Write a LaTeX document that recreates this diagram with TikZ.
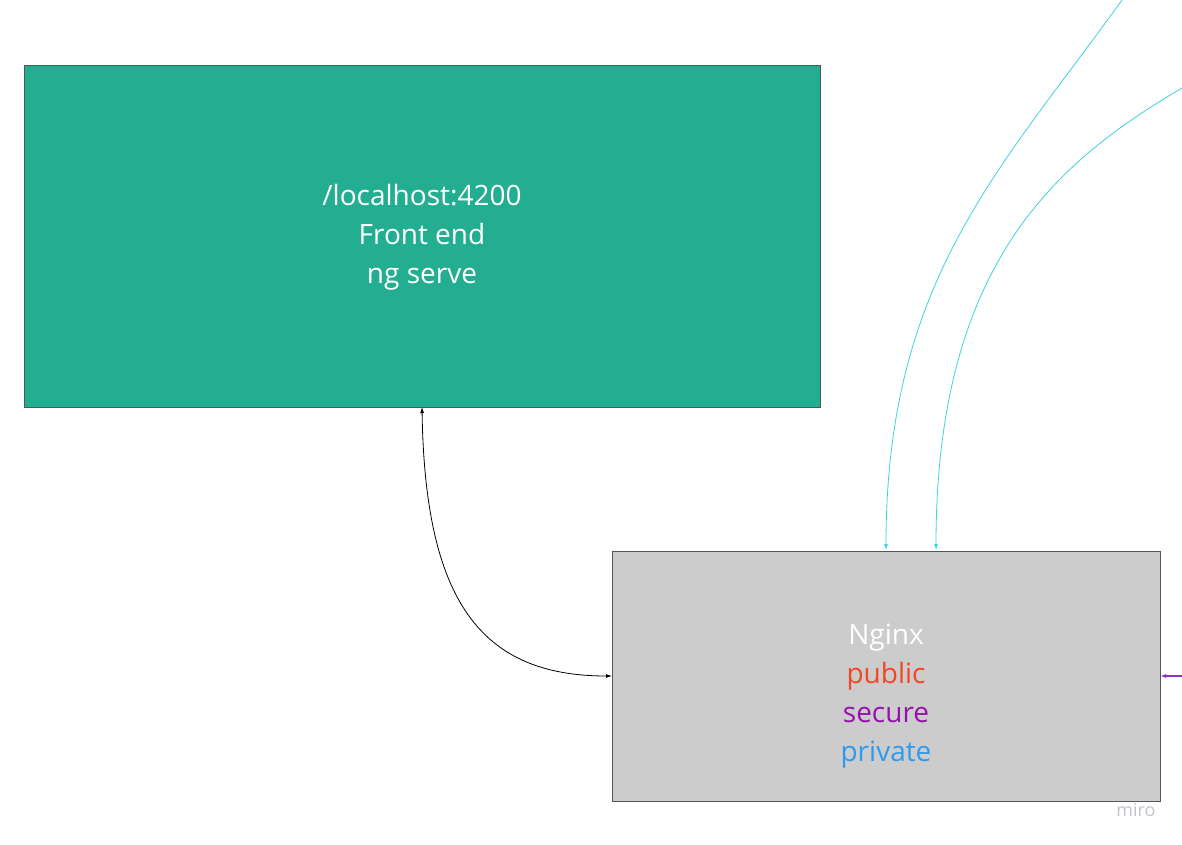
\documentclass[tikz,border=0pt]{standalone}
\usepackage{fontspec}
\setmainfont{Open Sans}
\usetikzlibrary{arrows.meta}
\definecolor{boxgreen}{HTML}{23AE92}
\definecolor{boxgray}{HTML}{CCCCCC}
\definecolor{edgegray}{HTML}{555555}
\definecolor{cyanline}{HTML}{3CD3DF}
\definecolor{purpleline}{HTML}{8A32CC}
\definecolor{pubred}{HTML}{F24726}
\definecolor{secpurple}{HTML}{9510AC}
\definecolor{privblue}{HTML}{2D9BF0}
\definecolor{mirogray}{HTML}{BFC3CC}
\tikzset{
  boxlabel/.style={text=white, align=center, font=\fontsize{28}{39}\selectfont},
  conn/.style={line width=0.8pt, -{Latex[length=6pt,width=4pt]}},
  biconn/.style={line width=0.8pt, {Latex[length=6pt,width=4pt]}-{Latex[length=6pt,width=4pt]}},
}
\begin{document}
\begin{tikzpicture}[x=1pt,y=-1pt]
\useasboundingbox (0,0) rectangle (1182,845);
% boxes
\draw[fill=boxgreen, draw=edgegray, line width=0.8pt] (24,65) rectangle (820,407);
\node[boxlabel] (felabel) at (422,237) {/localhost:4200\\Front end\\ng serve};
\draw[fill=boxgray, draw=edgegray, line width=1pt] (612,551) rectangle (1160,801);
\node[boxlabel] (nglabel) at (886,696) {Nginx\\\textcolor{pubred}{public}\\\textcolor{secpurple}{secure}\\\textcolor{privblue}{private}};
% anchor coordinates on box borders
\coordinate (feBottom) at (422,407);
\coordinate (ngLeft) at (612,676);
\coordinate (ngTopA) at (886,550);
\coordinate (ngTopB) at (936,550);
\coordinate (ngRight) at (1160,676);
\coordinate (srcA) at (1122,0);
\coordinate (srcB) at (1182,88);
\coordinate (srcC) at (1182,676);
% connectors
\draw[biconn, black] (feBottom) .. controls (425,600) and (480,676) .. (ngLeft);
\draw[conn, cyanline] (srcA) .. controls (1000,170) and (886,280) .. (ngTopA);
\draw[conn, cyanline] (srcB) .. controls (1060,160) and (936,260) .. (ngTopB);
\draw[conn, purpleline, line width=1.2pt] (srcC) -- (ngRight);
% watermark
\node[text=mirogray, font=\fontsize{18}{20}\selectfont] (miro) at (1136,810) {miro};
\end{tikzpicture}
\end{document}
